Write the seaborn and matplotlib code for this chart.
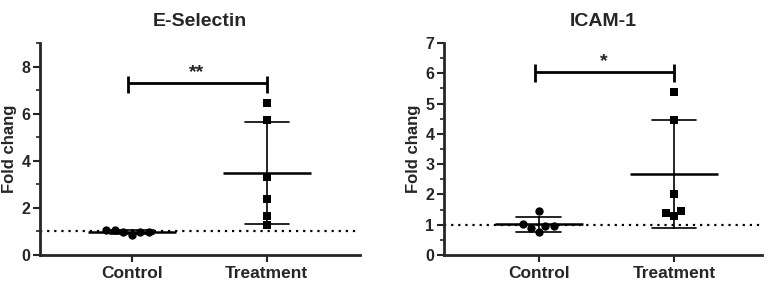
import numpy as np
import pandas as pd
import matplotlib
matplotlib.use("Agg")
import matplotlib.pyplot as plt
from matplotlib.ticker import MultipleLocator
import seaborn as sns

# ---- data ----
groups = ["Control", "Treatment"]
esel_control = [1.07, 0.97, 0.86, 0.96, 0.99, 1.07]
esel_treatment = [6.47, 5.71, 3.31, 2.39, 1.64, 1.27]
icam_control = [1.02, 0.95, 0.76, 1.46, 0.89, 0.97]
icam_treatment = [5.37, 4.45, 2.01, 1.46, 1.30, 1.39]
titles = ["E-Selectin", "ICAM-1"]
sig_labels = ["**", "*"]
sig_heights = [7.3, 6.05]
ylabel = "Fold chang"

sns.set_style("ticks")
plt.rcParams["font.family"] = ["Liberation Sans", "DejaVu Sans"]
plt.rcParams["font.weight"] = "bold"

fig = plt.figure(figsize=(7.68, 2.82), dpi=100)
ax1 = fig.add_axes([40 / 768, 27 / 282, 320 / 768, 212 / 282])
ax2 = fig.add_axes([444 / 768, 27 / 282, 318 / 768, 212 / 282])

panels = [
    (ax1, esel_control, esel_treatment, (0, 9), 2, 1, (-0.68, 1.69)),
    (ax2, icam_control, icam_treatment, (0, 7), 1, 0.5, (-0.70, 1.65)),
]

for i, (ax, ctrl, trt, ylim, major, minor, xlim) in enumerate(panels):
    df = pd.DataFrame({
        "group": ["Control"] * len(ctrl) + ["Treatment"] * len(trt),
        "value": ctrl + trt,
    })
    # mean +/- SD
    sns.pointplot(data=df, x="group", y="value", order=groups,
                  errorbar="sd", capsize=0.33, color="black",
                  linestyle="none", markers="_", markersize=64,
                  markeredgewidth=1.8,
                  err_kws={"linewidth": 1.2}, ax=ax)
    # individual points
    sns.swarmplot(data=df[df.group == "Control"], x="group", y="value",
                  order=groups, color="black", marker="o", size=6,
                  ax=ax, zorder=5)
    sns.swarmplot(data=df[df.group == "Treatment"], x="group", y="value",
                  order=groups, color="black", marker="s", size=6,
                  ax=ax, zorder=5)

    # reference line at 1
    ax.axhline(1, color="black", linestyle=(0, (1, 2.2)), linewidth=1.6,
               zorder=1)

    # significance bar (I-beam shape)
    h = sig_heights[i]
    cap = 0.09 * ylim[1] * 0.45
    ax.plot([-0.03, 1.0], [h, h], color="black", linewidth=2,
            solid_capstyle="butt")
    ax.vlines([-0.03, 1.0], h - cap * 1.15, h + cap * 0.85,
              color="black", linewidth=2)
    ax.text(0.48, h + 0.01 * ylim[1], sig_labels[i], ha="center",
            va="bottom", fontsize=14, fontweight="bold")

    ax.set_xlim(*xlim)
    ax.set_ylim(*ylim)
    yt = np.arange(ylim[0], ylim[1] + 0.01, major)
    ax.set_yticks(yt)
    ax.set_yticklabels([f"{v:g}" for v in yt], fontweight="bold",
                       fontsize=11.5)
    ax.yaxis.set_minor_locator(MultipleLocator(minor))
    ax.set_xticks(range(len(groups)))
    ax.set_xticklabels(groups, fontweight="bold", fontsize=12.5)
    ax.set_xlabel("")
    ax.set_ylabel(ylabel, fontsize=12, fontweight="bold", labelpad=3)
    ax.set_title(titles[i], fontsize=14, fontweight="bold", pad=12)
    ax.tick_params(axis="x", width=1.5, length=5, pad=3)
    ax.tick_params(axis="y", which="major", width=1.5, length=5, pad=2)
    ax.tick_params(axis="y", which="minor", width=1.2, length=3)
    for s in ["left", "bottom"]:
        ax.spines[s].set_linewidth(2)
    for s in ["top", "right"]:
        ax.spines[s].set_visible(False)

fig.savefig("out.png", dpi=100)
